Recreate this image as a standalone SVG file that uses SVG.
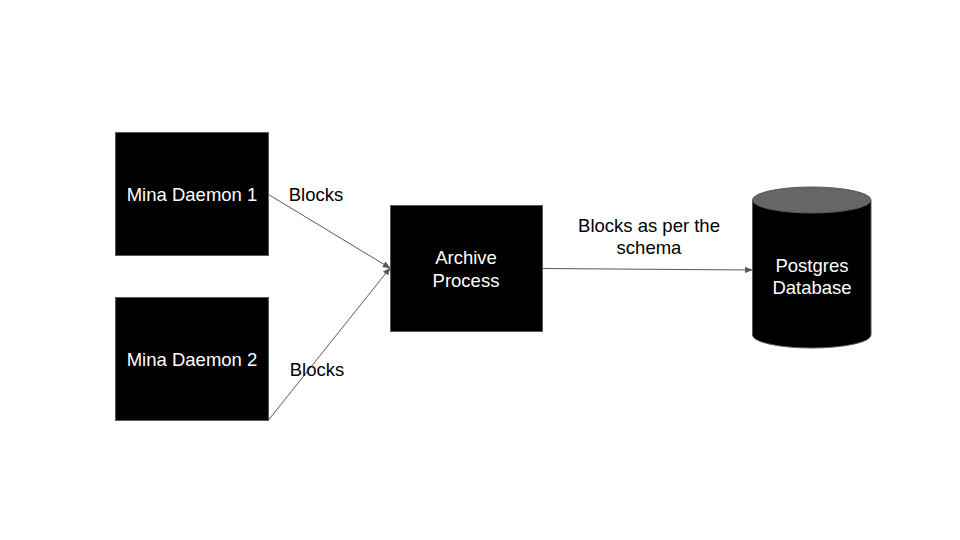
<svg xmlns="http://www.w3.org/2000/svg" width="960" height="540" viewBox="0 0 960 540">
<style>
.box{fill:#000;stroke:#595959;stroke-width:1}
.t{font-family:"Liberation Sans",Arial,sans-serif;font-size:18.5px;text-anchor:middle}
.w{fill:#fff}
.k{fill:#000}
.c{stroke:#595959;stroke-width:1;fill:none;marker-end:url(#ah)}
</style>
<defs>
<marker id="ah" viewBox="0 0 10 10" refX="9" refY="5" markerWidth="8" markerHeight="8" markerUnits="userSpaceOnUse" orient="auto">
<path d="M0,1 L10,5 L0,9 Z" fill="#595959"/>
</marker>
</defs>
<rect width="960" height="540" fill="#fff"/>
<g id="connectors">
<line class="c" x1="268.5" y1="194.5" x2="390" y2="268"/>
<line class="c" x1="268.5" y1="420" x2="390" y2="268"/>
<line class="c" x1="542" y1="268.5" x2="752" y2="270"/>
<text class="t k" x="316" y="201">Blocks</text>
<text class="t k" x="317" y="376">Blocks</text>
<text class="t k" x="649" y="232">Blocks as per the</text>
<text class="t k" x="649" y="254">schema</text>
</g>
<g id="mina1">
<rect class="box" x="115.5" y="132.5" width="153" height="123"/>
<text class="t w" x="192" y="201">Mina Daemon 1</text>
</g>
<g id="mina2">
<rect class="box" x="115.5" y="297.5" width="153" height="123"/>
<text class="t w" x="192" y="366">Mina Daemon 2</text>
</g>
<g id="archive">
<rect class="box" x="390.5" y="205.5" width="152" height="126"/>
<text class="t w" x="466" y="264">Archive</text>
<text class="t w" x="466" y="287">Process</text>
</g>
<g id="postgres">
<path class="box" d="M752.5,200 L752.5,335 A59.25,13 0 0 0 871,335 L871,200 Z"/>
<ellipse cx="811.75" cy="200" rx="59.25" ry="13" fill="#666" stroke="#595959"/>
<text class="t w" x="812" y="272">Postgres</text>
<text class="t w" x="812" y="294">Database</text>
</g>
</svg>
